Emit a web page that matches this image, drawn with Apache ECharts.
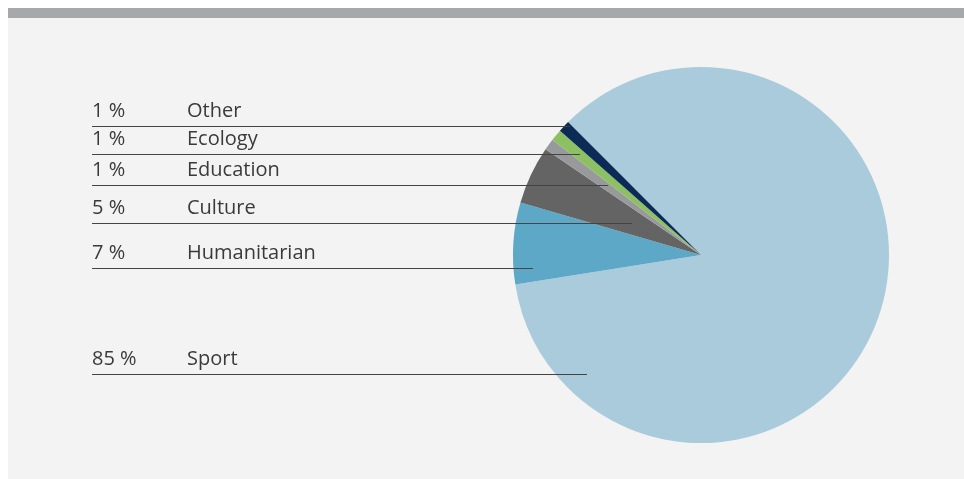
<!DOCTYPE html>
<html>
<head>
<meta charset="utf-8">
<style>
  html, body { margin: 0; padding: 0; background: #fff; }
  #panel { position: absolute; left: 8px; top: 8px; width: 956px; height: 471px; background: #f2f3f2; }
  #bar { position: absolute; left: 8px; top: 8px; width: 956px; height: 10px; background: #a7a8ab; }
  #chart { position: absolute; left: 0; top: 0; width: 964px; height: 479px; }
</style>
<script src="https://cdn.jsdelivr.net/npm/echarts@6/dist/echarts.min.js"></script>
</head>
<body>
<div id="panel"></div>
<div id="bar"></div>
<div id="chart"></div>
<script>
const categories = ['Sport', 'Humanitarian', 'Culture', 'Education', 'Ecology', 'Other']
const shares = [85, 7, 5, 1, 1, 1]
const colors = ['#a9cbdc', '#5ea8c7', '#646464', '#98999b', '#8dc063', '#0b2a55']

// where each label's underline sits and where it stops inside the pie
const lineY = [374, 268, 223, 185, 154, 126]
const lineEndX = [587, 533, 632, 608, 580, 570]
const labelX = 92

const chart = echarts.init(document.getElementById('chart'))

const pieBase = {
  type: 'pie',
  center: [701, 255],
  radius: 188,
  startAngle: 135,
  clockwise: true,
  avoidLabelOverlap: false,
  emphasis: { disabled: true },
  silent: true,
}

chart.setOption({
  animation: false,
  series: [
    // the slices
    {
      ...pieBase,
      z: 2,
      data: categories.map((name, i) => ({
        name,
        value: shares[i],
        itemStyle: { color: colors[i] },
      })),
      label: { show: false },
      labelLine: { show: false },
    },
    // same pie, invisible, on top: carries the labels and their lines over the slices
    {
      ...pieBase,
      z: 3,
      data: categories.map((name, i) => ({
        name,
        value: shares[i],
        itemStyle: { color: 'rgba(0,0,0,0)' },
      })),
      label: {
        show: true,
        position: 'outside',
        formatter: p => `{p|${p.value} %}{n|${p.name}}`,
        rich: {
          p: { width: 95, fontFamily: 'Open Sans', fontSize: 20, color: '#3a3a3a' },
          n: { fontFamily: 'Open Sans', fontSize: 20, color: '#3a3a3a' },
        },
      },
      labelLine: {
        show: true,
        lineStyle: { color: '#444', width: 1 },
      },
      labelLayout(params) {
        const i = params.dataIndex
        const y = lineY[i] + 0.5
        return {
          x: labelX,
          y: lineY[i] - 15,
          align: 'left',
          verticalAlign: 'middle',
          labelLinePoints: [[lineEndX[i], y], [lineEndX[i], y], [labelX, y]],
        }
      },
    },
  ],
})
</script>
</body>
</html>
